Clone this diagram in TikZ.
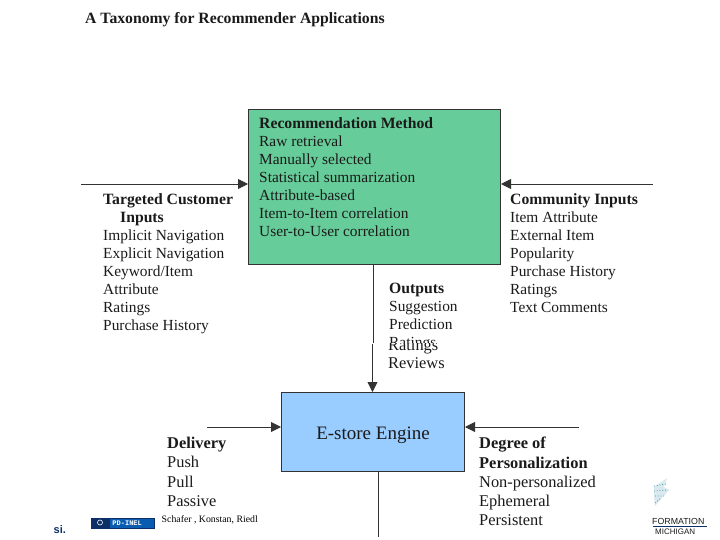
\documentclass[tikz,border=0pt]{standalone}
\usepackage{fontspec}
\setmainfont{Liberation Serif}
\setsansfont{Liberation Sans}
\setmonofont{Liberation Mono}
\usetikzlibrary{positioning, arrows.meta}
\definecolor{methodgreen}{HTML}{66CC99}
\definecolor{engineblue}{HTML}{99CCFF}
\definecolor{linegray}{HTML}{333333}
\definecolor{textgray}{HTML}{1A1A1A}
\definecolor{badgeblue}{HTML}{0A5CB0}
\definecolor{badgenavy}{HTML}{0B2F66}
\definecolor{crestteal}{HTML}{3F8FA8}
\newcommand{\hd}[1]{{\fontsize{15.7}{18.1}\selectfont\textbf{#1}}}
\newcommand{\bighd}[1]{{\fontsize{16.4}{19.3}\selectfont\textbf{#1}}}
\tikzset{
  listing/.style={anchor=north west,inner sep=0pt,align=left,text=textgray,font=\fontsize{15.4}{18.1}\selectfont},
  biglisting/.style={listing,font=\fontsize{16.4}{19.3}\selectfont},
  box/.style={draw=linegray,line width=1pt,anchor=north west,inner sep=0pt},
  feed/.style={-{Triangle[length=10pt,width=10pt]},linegray,line width=0.9pt}
}
\begin{document}
\begin{tikzpicture}[x=1pt,y=-1pt]
  \useasboundingbox (0,0) rectangle (720,540);

  \node[anchor=north west,inner sep=0pt,text=textgray,font=\fontsize{15.7}{18}\selectfont\bfseries] (title) at (85,12) {A Taxonomy for Recommender Applications};

  % the two boxes
  \node[box,fill=methodgreen,minimum width=252pt,minimum height=155pt] (method) at (248,109) {};
  \node[box,fill=engineblue,minimum width=183pt,minimum height=79pt] (engine) at (281,392) {};
  \node[listing] (methodlist) at (259,117) {\hd{Recommendation Method}\\Raw retrieval\\Manually selected\\Statistical summarization\\Attribute-based\\Item-to-Item correlation\\User-to-User correlation};
  \node[text=textgray,font=\fontsize{19}{22}\selectfont] (enginelabel) at (373,435) {E-store Engine};

  % side lists
  \node[listing] (customer) at (103,193) {\hd{Targeted Customer}\\\hspace*{17pt}\hd{Inputs}\\Implicit Navigation\\Explicit Navigation\\Keyword/Item\\Attribute\\Ratings\\Purchase History};
  \node[listing] (community) at (510,193) {\hd{Community Inputs}\\Item Attribute\\External Item\\Popularity\\Purchase History\\Ratings\\Text Comments};
  \node[biglisting] (delivery) at (167,437) {\bighd{Delivery}\\Push\\Pull\\Passive};
  \node[biglisting] (degree) at (479,437) {\bighd{Degree of}\\\bighd{Personalization}\\Non-personalized\\Ephemeral\\Persistent};

  % the slide break cuts the outputs list
  \node[listing,font=\fontsize{16.4}{18.3}\selectfont] (outputslow) at (388,339) {Ratings\\Reviews};
  \fill[white] (385,325) rectangle (470,343);
  \begin{scope}
    \clip (380,270) rectangle (470,342);
    \node[listing] (outputs) at (389,283) {\hd{Outputs}\\Suggestion\\Prediction\\Ratings};
  \end{scope}

  % connectors
  \coordinate (custstart) at (81,184);
  \coordinate (commstart) at (653,184);
  \coordinate (delstart) at (207,427);
  \coordinate (degstart) at (579,427);
  \coordinate (breakup) at (373.5,342.5);
  \coordinate (breakdown) at (372.5,344);
  \coordinate (lineend) at (378,537);
  \draw[feed] (custstart) -- (method.west |- custstart);
  \draw[feed] (commstart) -- (method.east |- commstart);
  \draw[feed] (delstart) -- (engine.west |- delstart);
  \draw[feed] (degstart) -- (engine.east |- degstart);
  \draw[linegray,line width=0.9pt] (method.south -| breakup) -- (breakup);
  \draw[feed] (breakdown) -- (engine.north -| breakdown);
  \draw[linegray,line width=0.9pt] (engine.south -| lineend) -- (lineend);

  % slide footer
  \node[draw=badgenavy,fill=badgeblue,anchor=north west,inner sep=0pt,minimum width=63pt,minimum height=10pt,text=white,font=\ttfamily\bfseries\fontsize{7}{8}\selectfont] (badge) at (90.5,517.5) {\hspace{10pt}PD-INEL};
  \fill[badgenavy] (badge.north west) rectangle ++(19,10);
  \node[circle,draw=white,inner sep=0pt,minimum size=5pt,line width=0.6pt] (badgemark) at (100,522.5) {};
  \node[anchor=west,inner sep=0pt,font=\fontsize{9.8}{11}\selectfont] (credit) at (161.5,519.5) {Schafer , Konstan, Riedl};
  \node[anchor=west,inner sep=0pt,text=badgenavy,font=\sffamily\bfseries\fontsize{11}{12}\selectfont] (site) at (53.5,530) {si.};
  \node[anchor=west,inner sep=0pt,text=textgray,font=\sffamily\fontsize{8.8}{10}\selectfont] (school) at (652,521.5) {FORMATION};
  \draw[badgenavy,line width=1pt] (653,526.5) coordinate (ruleleft) -- (707,526.5) coordinate (ruleright);
  \node[anchor=west,inner sep=0pt,text=textgray,font=\sffamily\fontsize{8}{9}\selectfont] (campus) at (655,532) {MICHIGAN};

  % faded crest above the school name
  \fill[crestteal,opacity=.2] (654,497) -- (654,487) -- (661,482) -- (667,478) -- (664,487) -- (669,490) -- (662,498) -- (655,506) -- cycle;
  \draw[crestteal,line width=0.8pt,dotted] (654,486) -- (666,484) (654,491) -- (668,490) (655,496) -- (664,496) (655,503) -- (661,498);
\end{tikzpicture}
\end{document}
